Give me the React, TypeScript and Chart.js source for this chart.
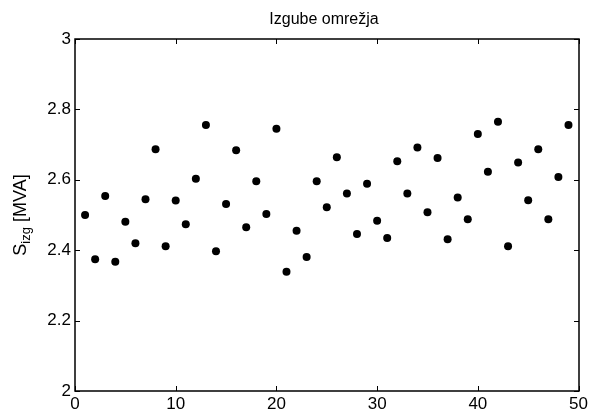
import React, { useEffect, useRef } from "react";
import { Chart, registerables } from "chart.js";

Chart.register(...registerables);

const titleText = "Izgube omrežja";
const yLabelMain = "S";
const yLabelSub = "izg";
const yLabelUnit = " [MVA]";

const xValues = [
  1, 2, 3, 4, 5, 6, 7, 8, 9, 10,
  11, 12, 13, 14, 15, 16, 17, 18, 19, 20,
  21, 22, 23, 24, 25, 26, 27, 28, 29, 30,
  31, 32, 33, 34, 35, 36, 37, 38, 39, 40,
  41, 42, 43, 44, 45, 46, 47, 48, 49,
];

const sValues = [
  2.5, 2.374, 2.554, 2.367, 2.481, 2.42, 2.545, 2.687, 2.411, 2.541,
  2.474, 2.603, 2.756, 2.397, 2.531, 2.684, 2.465, 2.596, 2.503, 2.745,
  2.339, 2.455, 2.381, 2.596, 2.522, 2.664, 2.561, 2.446, 2.589, 2.484,
  2.435, 2.653, 2.561, 2.692, 2.508, 2.662, 2.431, 2.55, 2.488, 2.73,
  2.623, 2.765, 2.411, 2.649, 2.542, 2.687, 2.488, 2.608, 2.756,
];

const xTicks = [0, 10, 20, 30, 40, 50];
const xTickLabels = ["0", "10", "20", "30", "40", "50"];
const yTicks = [2, 2.2, 2.4, 2.6, 2.8, 3];
const yTickLabels = ["2", "2.2", "2.4", "2.6", "2.8", "3"];

const FONT = "'Liberation Sans', Arial, Helvetica, sans-serif";

const framePlugin = {
  id: "matlabFrame",
  afterDatasetsDraw(chart: any) {
    const ctx: CanvasRenderingContext2D = chart.ctx;
    const area = chart.chartArea;
    const xs = chart.scales.x;
    const ys = chart.scales.y;
    const L = Math.round(area.left);
    const R = Math.round(area.right);
    const T = Math.round(area.top);
    const B = Math.round(area.bottom);
    ctx.save();
    ctx.strokeStyle = "#000000";
    ctx.lineWidth = 1.5;
    ctx.setLineDash([]);
    ctx.beginPath();
    ctx.moveTo(L, T);
    ctx.lineTo(R, T);
    ctx.lineTo(R, B);
    ctx.lineTo(L, B);
    ctx.closePath();
    ctx.stroke();
    const tl = 5;
    ctx.lineWidth = 1;
    ctx.beginPath();
    xTicks.forEach((v) => {
      const px = Math.round(xs.getPixelForValue(v)) + 0.5;
      ctx.moveTo(px, B);
      ctx.lineTo(px, B - tl);
      ctx.moveTo(px, T);
      ctx.lineTo(px, T + tl);
    });
    yTicks.forEach((v) => {
      const py = Math.round(ys.getPixelForValue(v)) + 0.5;
      ctx.moveTo(L, py);
      ctx.lineTo(L + tl, py);
      ctx.moveTo(R, py);
      ctx.lineTo(R - tl, py);
    });
    ctx.stroke();
    ctx.restore();
  },
  afterDraw(chart: any) {
    const ctx: CanvasRenderingContext2D = chart.ctx;
    const area = chart.chartArea;
    ctx.save();
    ctx.fillStyle = "#000";
    ctx.font = `16px ${FONT}`;
    ctx.textAlign = "center";
    ctx.textBaseline = "alphabetic";
    ctx.fillText(titleText, 324, 24);

    const mainFont = `18px ${FONT}`;
    const subFont = `13px ${FONT}`;
    ctx.font = mainFont;
    const wS = ctx.measureText(yLabelMain).width;
    const wU = ctx.measureText(yLabelUnit).width;
    ctx.font = subFont;
    const wSub = ctx.measureText(yLabelSub).width;
    const total = wS + wSub + wU;
    const cy = (area.top + area.bottom) / 2;
    ctx.translate(26, cy);
    ctx.rotate(-Math.PI / 2);
    ctx.textAlign = "left";
    let x0 = -total / 2;
    ctx.font = mainFont;
    ctx.fillText(yLabelMain, x0, 0);
    x0 += wS;
    ctx.font = subFont;
    ctx.fillText(yLabelSub, x0, 4);
    x0 += wSub;
    ctx.font = mainFont;
    ctx.fillText(yLabelUnit, x0, 0);
    ctx.restore();
  },
};

export default function App() {
  const ref = useRef<HTMLCanvasElement | null>(null);

  useEffect(() => {
    if (!ref.current) return;
    const chart = new Chart(ref.current, {
      type: "scatter",
      data: {
        datasets: [
          {
            label: "S_izg",
            data: xValues.map((x, i) => ({ x, y: sValues[i] })),
            backgroundColor: "#000",
            borderColor: "#000",
            borderWidth: 0,
            pointRadius: 4,
            pointHoverRadius: 4,
          },
        ],
      },
      options: {
        responsive: false,
        animation: false,
        devicePixelRatio: 1,
        layout: { padding: { top: 39, right: 10, left: 0, bottom: 0 } },
        plugins: {
          legend: { display: false },
          title: { display: false },
          tooltip: { enabled: false },
        },
        scales: {
          x: {
            type: "linear",
            min: 0,
            max: 50,
            grid: { display: false, drawTicks: false },
            border: { display: false },
            afterBuildTicks: (scale: any) => {
              scale.ticks = xTicks.map((v) => ({ value: v }));
            },
            afterFit: (scale: any) => {
              scale.height = 21;
            },
            ticks: {
              padding: 3,
              color: "#000",
              font: { family: FONT, size: 17 },
              maxRotation: 0,
              callback: (_v: any, i: number) => xTickLabels[i],
            },
          },
          y: {
            type: "linear",
            min: 2,
            max: 3,
            grid: { display: false, drawTicks: false },
            border: { display: false },
            afterBuildTicks: (scale: any) => {
              scale.ticks = yTicks.map((v) => ({ value: v }));
            },
            afterFit: (scale: any) => {
              scale.width = 75;
            },
            ticks: {
              padding: 4,
              color: "#000",
              font: { family: FONT, size: 17 },
              callback: (_v: any, i: number) => yTickLabels[i],
            },
          },
        },
      },
      plugins: [framePlugin],
    });
    return () => chart.destroy();
  }, []);

  return (
    <div style={{ position: "absolute", left: 0, top: 0, width: 591, height: 412, background: "#fff" }}>
      <canvas ref={ref} width={591} height={412} />
    </div>
  );
}
